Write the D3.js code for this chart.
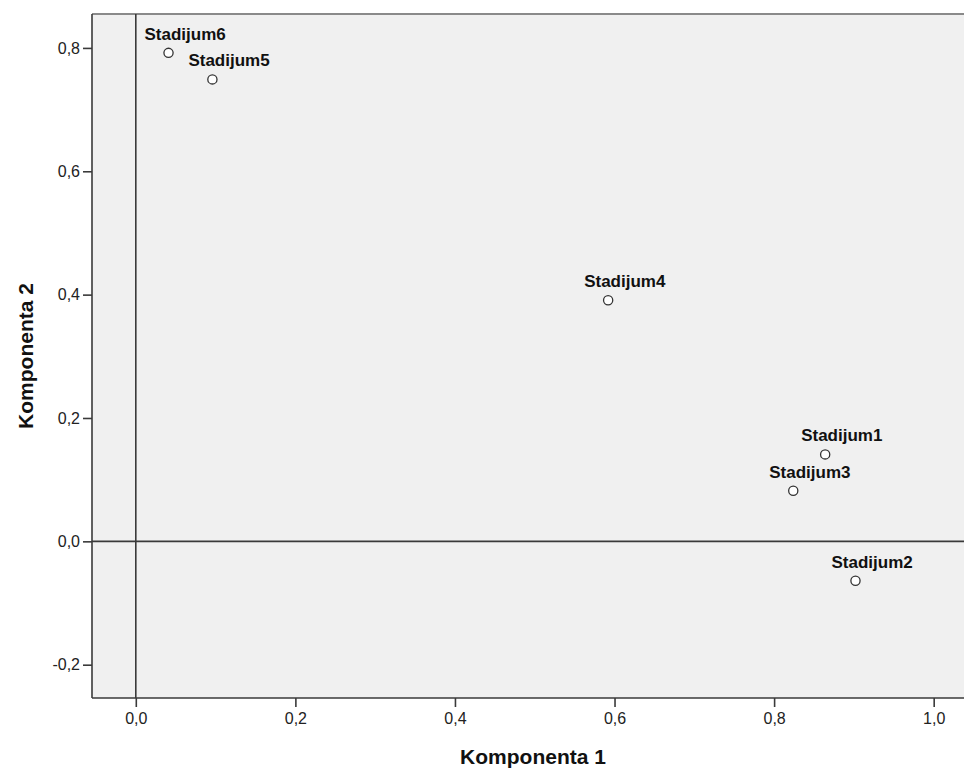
<!DOCTYPE html>
<html><head><meta charset="utf-8">
<script src="https://cdn.jsdelivr.net/npm/d3@7"></script>
<style>body{margin:0;background:#fff;} svg{display:block;}</style>
</head><body>
<svg id="c" width="964" height="769"></svg>
<script>
const labels = ["Stadijum1","Stadijum2","Stadijum3","Stadijum4","Stadijum5","Stadijum6"];
const comp1 = [0.864, 0.902, 0.824, 0.592, 0.096, 0.041];
const comp2 = [0.141, -0.064, 0.082, 0.391, 0.749, 0.792];
const xTicks = [0, 0.2, 0.4, 0.6, 0.8, 1.0];
const yTicks = [-0.2, 0, 0.2, 0.4, 0.6, 0.8];
const xTitle = "Komponenta 1";
const yTitle = "Komponenta 2";

const svg = d3.select("#c");
const L = 92, R = 964, T = 14, B = 698;
const x = d3.scaleLinear().domain([-0.0549, 1.038]).range([L, R]);
const y = d3.scaleLinear().domain([-0.254, 0.855]).range([B, T]);
const fmt = d => d3.format(".1f")(d).replace(".", ",").replace("−","-");
const font = "Arial, 'Liberation Sans', sans-serif";

svg.append("rect").attr("x", L).attr("y", T).attr("width", R - L).attr("height", B - T).attr("fill", "#f0f0f0");
svg.append("line").attr("x1", L).attr("x2", R).attr("y1", T).attr("y2", T).attr("stroke", "#8a8a8a").attr("stroke-width", 2);

// zero reference lines
svg.append("line").attr("x1", x(0)).attr("x2", x(0)).attr("y1", T).attr("y2", B).attr("stroke", "#3a3a3a").attr("stroke-width", 1.6);
svg.append("line").attr("x1", L).attr("x2", R).attr("y1", y(0)).attr("y2", y(0)).attr("stroke", "#3a3a3a").attr("stroke-width", 1.6);

const xAxis = svg.append("g").attr("transform", `translate(0,${B})`)
  .call(d3.axisBottom(x).tickValues(xTicks).tickFormat(fmt).tickSize(9).tickPadding(6).tickSizeOuter(0));
const yAxis = svg.append("g").attr("transform", `translate(${L},0)`)
  .call(d3.axisLeft(y).tickValues(yTicks).tickFormat(fmt).tickSize(9).tickPadding(3).tickSizeOuter(0));
[xAxis, yAxis].forEach(g => {
  g.select(".domain").attr("stroke", "#3a3a3a").attr("stroke-width", 1.6);
  g.selectAll(".tick line").attr("stroke", "#3a3a3a").attr("stroke-width", 1.6);
  g.selectAll(".tick text").attr("fill", "#222").style("font-family", font).style("font-size", "16px");
});
xAxis.select(".domain").attr("d", `M${L},0H${R}`);
yAxis.select(".domain").attr("d", `M0,${T}V${B}`);

const data = labels.map((l, i) => ({l, a: comp1[i], b: comp2[i]}));
svg.append("g").selectAll("circle").data(data).join("circle")
  .attr("cx", d => x(d.a)).attr("cy", d => y(d.b)).attr("r", 4.6)
  .attr("fill", "#fff").attr("stroke", "#333").attr("stroke-width", 1.3);
svg.append("g").selectAll("text").data(data).join("text")
  .attr("x", d => x(d.a) - 24).attr("y", d => y(d.b) - 13)
  .attr("fill", "#111").style("font-family", font).style("font-weight", "bold").style("font-size", "17px")
  .text(d => d.l);

svg.append("text").attr("x", (L + R) / 2 + 5).attr("y", 764).attr("text-anchor", "middle")
  .style("font-family", font).style("font-weight", "bold").style("font-size", "21px").attr("fill", "#111").text(xTitle);
svg.append("text").attr("transform", `translate(33,${(T + B) / 2}) rotate(-90)`).attr("text-anchor", "middle")
  .style("font-family", font).style("font-weight", "bold").style("font-size", "21px").attr("fill", "#111").text(yTitle);
</script>
</body></html>
